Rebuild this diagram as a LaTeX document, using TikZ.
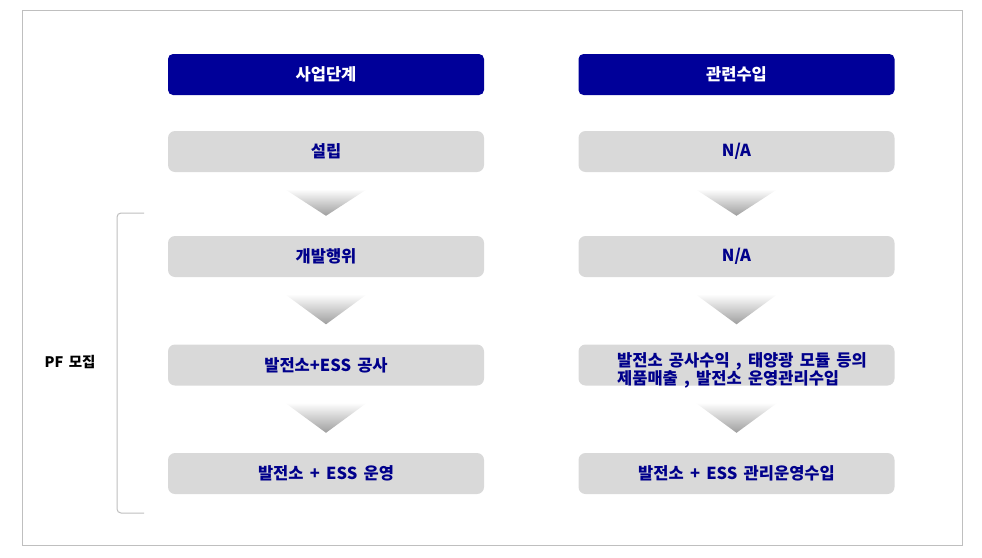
\documentclass[tikz,border=0pt]{standalone}
\usepackage{fontspec}
\setmainfont{Noto Sans CJK KR}
\usetikzlibrary{calc}
\definecolor{hdrblue}{HTML}{000099}
\definecolor{boxgray}{HTML}{D9D9D9}
\definecolor{navytxt}{HTML}{00008B}
\definecolor{framegray}{HTML}{BFBFBF}
\newcommand{\krfont}[1]{\bfseries\fontsize{#1}{1.2\dimexpr #1pt\relax}\selectfont\spaceskip=0.38em plus 0.1em\relax}
\tikzset{
  hdr/.style={rectangle, rounded corners=5pt, fill=hdrblue, text=white, font=\krfont{16.5}, minimum width=316pt, minimum height=41pt, inner sep=0pt},
  stage/.style={rectangle, rounded corners=7pt, fill=boxgray, text=navytxt, font=\krfont{16.5}, minimum width=316pt, minimum height=41pt, inner sep=0pt},
  downarr/.style={top color=white, bottom color=black!38, draw=none},
}
\begin{document}
\begin{tikzpicture}[x=1pt,y=-1pt]
\useasboundingbox (0,0) rectangle (982,557);
\draw[framegray, line width=1pt] (22,10) rectangle (962,545);

% left column
\node[hdr]   (lh) at (326,74.5)  {사업단계};
\node[stage] (l1) at (326,151.5) {설립};
\node[stage] (l2) at (326,256.5) {개발행위};
\node[stage] (l3) at (326,365)   {발전소+ESS 공사};
\node[stage] (l4) at (326,473.5) {발전소 + ESS 운영};

% right column
\node[hdr]   (rh) at (736.5,74.5)  {관련수입};
\node[stage] (r1) at (736.5,151.5) {N/A};
\node[stage] (r2) at (736.5,256.5) {N/A};
\node[stage] (r3) at (736.5,365)   {};
\node[text=navytxt, font=\krfont{16.5}, align=left, inner sep=0pt] (r3t) at (742,370) {발전소 공사수익 , 태양광 모듈 등의\\[-2pt]제품매출 , 발전소 운영관리수입};
\node[stage] (r4) at (736.5,473.5) {발전소 + ESS 관리운영수입};

% down arrows
\foreach \a/\b in {l1/l2,l2/l3,l3/l4,r1/r2,r2/r3,r3/r4}{
  \shade[downarr] ($(\a.south)+(-41,17)$) -- ($(\a.south)+(41,17)$) -- ($(\b.north)+(0,-20)$) -- cycle;
}

% bracket
\draw[framegray, line width=1pt, rounded corners=4pt] (144,213) -- (117,213) -- (117,513) -- (144,513);
\node[font=\krfont{14.5}, text=black] (pf) at (70,362) {PF 모집};
\end{tikzpicture}
\end{document}
